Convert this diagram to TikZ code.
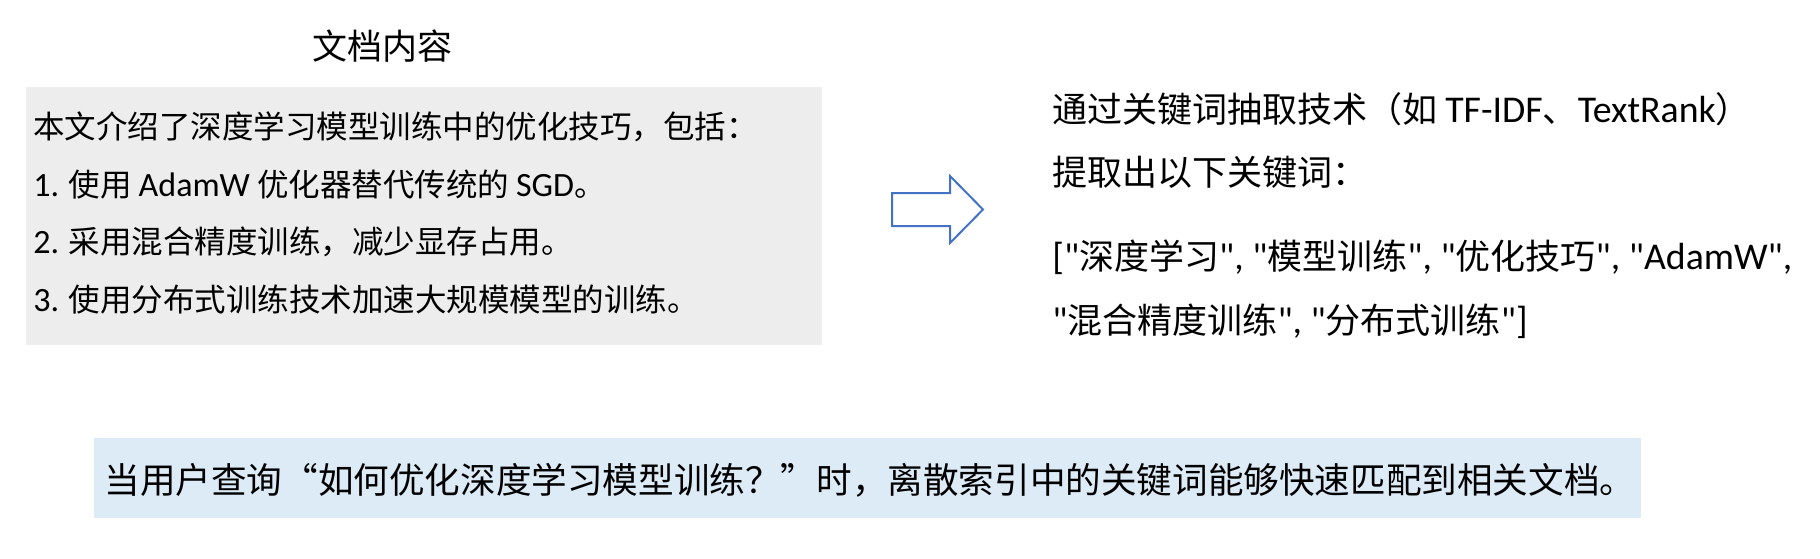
\documentclass[tikz,border=0pt]{standalone}
\usepackage{fontspec}
\setmainfont{Noto Sans CJK SC}
\newfontfamily\enfont[Scale=1.08]{Carlito}
\newcommand{\en}[1]{{\enfont #1}}
\newcommand{\fq}[1]{{\addfontfeatures{CharacterWidth=Full}#1}}
\usetikzlibrary{positioning}
\definecolor{docgray}{HTML}{EDEDED}
\definecolor{queryblue}{HTML}{DDEBF7}
\definecolor{arrowblue}{HTML}{4472C4}
\tikzset{
  docbox/.style={fill=docgray,inner sep=0pt,minimum width=398.25pt,minimum height=129pt},
  querybox/.style={fill=queryblue,inner sep=0pt,minimum width=773.5pt,minimum height=40pt},
  plaintext/.style={align=left,inner sep=0pt,anchor=west},
}

\begin{document}
\begin{tikzpicture}[x=0.5pt,y=-0.5pt]
    \useasboundingbox (0,0) rectangle (1820,558);
    % source document
    \path (382,46) node[inner sep=0pt,font=\fontsize{17.5pt}{20pt}\selectfont] (title) {文档内容};
    \path (423.75,216) node[docbox] (doc) {};
    \path (33,213) node[plaintext,font=\fontsize{15.75pt}{28.75pt}\selectfont] (doctext) {%
      本文介绍了深度学习模型训练中的优化技巧，包括：\\
      \en{1.} 使用 \en{AdamW} 优化器替代传统的 \en{SGD}。\\
      \en{2.} 采用混合精度训练，减少显存占用。\\
      \en{3.} 使用分布式训练技术加速大规模模型的训练。};
    % block arrow
    \draw[arrowblue,line width=1pt,fill=white,line join=miter]
      (892,193) -- (950,193) -- (950,176) -- (983,209.5) -- (950,243) -- (950,226) -- (892,226) -- cycle;
    % extracted keywords
    \path (1052,140.5) node[plaintext,font=\fontsize{17.5pt}{31.75pt}\selectfont] (kwintro) {%
      通过关键词抽取技术（如 \en{TF-IDF}、\en{TextRank}）\\
      提取出以下关键词：};
    \path (1052,289) node[plaintext,font=\fontsize{17.5pt}{31.75pt}\selectfont] (kwlist) {%
      \en{["}深度学习\en{", "}模型训练\en{", "}优化技巧\en{", "AdamW",}\\
      \en{"}混合精度训练\en{", "}分布式训练\en{"]}};
    % query
    \path (867.5,478) node[querybox] (query) {};
    \path (104,480) node[plaintext,font=\fontsize{17.8pt}{20pt}\selectfont] (querytext) {%
      当用户查询\fq{“}如何优化深度学习模型训练？\fq{”}时，离散索引中的关键词能够快速匹配到相关文档。};
\end{tikzpicture}
\end{document}
